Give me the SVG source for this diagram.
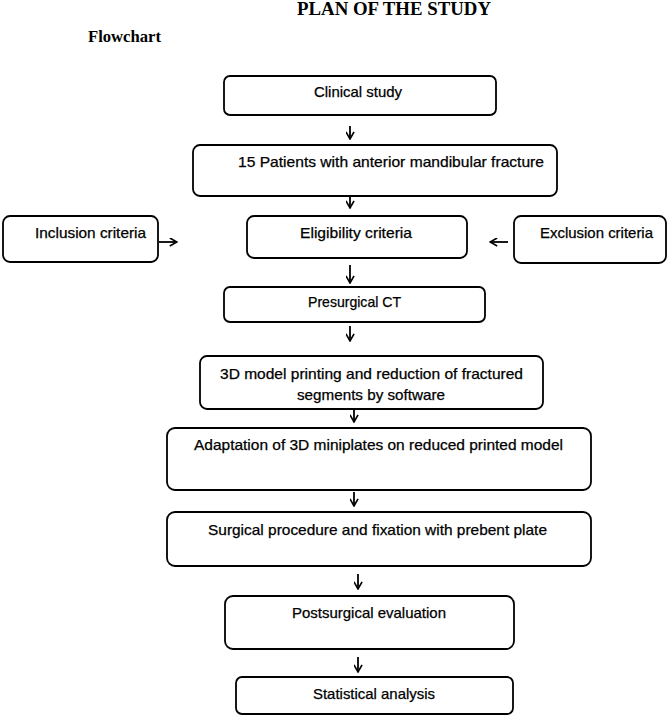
<svg xmlns="http://www.w3.org/2000/svg" width="669" height="728" viewBox="0 0 669 728">
<defs>
<marker id="ah" viewBox="0 0 10 10" refX="9" refY="5" markerWidth="9" markerHeight="9" markerUnits="userSpaceOnUse" orient="auto">
<path d="M1,0.5 L9,5 L1,9.5" fill="none" stroke="#000" stroke-width="1.8"/>
</marker>
<style>
.box{fill:#fff;stroke:#000;stroke-width:1.8}
.t{font-family:"Liberation Sans",Arial,sans-serif;font-size:14.5px;fill:#000;stroke:#000;stroke-width:0.25}
.c{stroke:#000;stroke-width:1.8;fill:none;marker-end:url(#ah)}
.h{font-family:"Liberation Serif","Times New Roman",serif;font-weight:bold;fill:#000}
</style>
</defs>
<rect width="669" height="728" fill="#fff"/>
<text class="h" x="297" y="15" font-size="18.5" textLength="194" lengthAdjust="spacingAndGlyphs">PLAN OF THE STUDY</text>
<text class="h" x="88" y="42" font-size="16" textLength="73" lengthAdjust="spacingAndGlyphs">Flowchart</text>

<g id="connectors">
<line class="c" x1="350" y1="126" x2="350" y2="139"/>
<line class="c" x1="350" y1="196" x2="350" y2="208"/>
<line class="c" x1="159" y1="242" x2="177" y2="242"/>
<line class="c" x1="508" y1="242" x2="490" y2="242"/>
<line class="c" x1="350" y1="265" x2="350" y2="283"/>
<line class="c" x1="350" y1="326" x2="350" y2="341"/>
<line class="c" x1="354" y1="409" x2="354" y2="422"/>
<line class="c" x1="354" y1="492" x2="354" y2="506"/>
<line class="c" x1="358" y1="574" x2="358" y2="589"/>
<line class="c" x1="358" y1="657" x2="358" y2="672"/>
</g>

<g id="n1"><rect class="box" x="224" y="76" width="272" height="39" rx="6"/><text class="t" x="314" y="97" textLength="88" lengthAdjust="spacingAndGlyphs">Clinical study</text></g>
<g id="n2"><rect class="box" x="193" y="145" width="364" height="51" rx="7"/><text class="t" x="238" y="167" textLength="306" lengthAdjust="spacingAndGlyphs">15 Patients with anterior mandibular fracture</text></g>
<g id="n3"><rect class="box" x="3" y="216" width="155" height="46" rx="7"/><text class="t" x="35" y="238" textLength="111" lengthAdjust="spacingAndGlyphs">Inclusion criteria</text></g>
<g id="n4"><rect class="box" x="247" y="216" width="220" height="42" rx="7"/><text class="t" x="300" y="238" textLength="112" lengthAdjust="spacingAndGlyphs">Eligibility criteria</text></g>
<g id="n5"><rect class="box" x="514" y="216" width="152" height="47" rx="7"/><text class="t" x="540" y="238" textLength="113" lengthAdjust="spacingAndGlyphs">Exclusion criteria</text></g>
<g id="n6"><rect class="box" x="224" y="287" width="261" height="35" rx="6"/><text class="t" x="308" y="307" textLength="93" lengthAdjust="spacingAndGlyphs">Presurgical CT</text></g>
<g id="n7"><rect class="box" x="200" y="356" width="343" height="53" rx="7"/><text class="t" x="220" y="379" textLength="303" lengthAdjust="spacingAndGlyphs">3D model printing and reduction of fractured</text><text class="t" x="297" y="400" textLength="148" lengthAdjust="spacingAndGlyphs">segments by software</text></g>
<g id="n8"><rect class="box" x="167" y="428" width="424" height="62" rx="8"/><text class="t" x="194" y="450" textLength="369" lengthAdjust="spacingAndGlyphs">Adaptation of 3D miniplates on reduced printed model</text></g>
<g id="n9"><rect class="box" x="167" y="512" width="424" height="54" rx="8"/><text class="t" x="208" y="535" textLength="339" lengthAdjust="spacingAndGlyphs">Surgical procedure and fixation with prebent plate</text></g>
<g id="n10"><rect class="box" x="225" y="596" width="289" height="53" rx="8"/><text class="t" x="292" y="618" textLength="154" lengthAdjust="spacingAndGlyphs">Postsurgical evaluation</text></g>
<g id="n11"><rect class="box" x="236" y="677" width="277" height="37" rx="6"/><text class="t" x="313" y="699" textLength="122" lengthAdjust="spacingAndGlyphs">Statistical analysis</text></g>
</svg>
